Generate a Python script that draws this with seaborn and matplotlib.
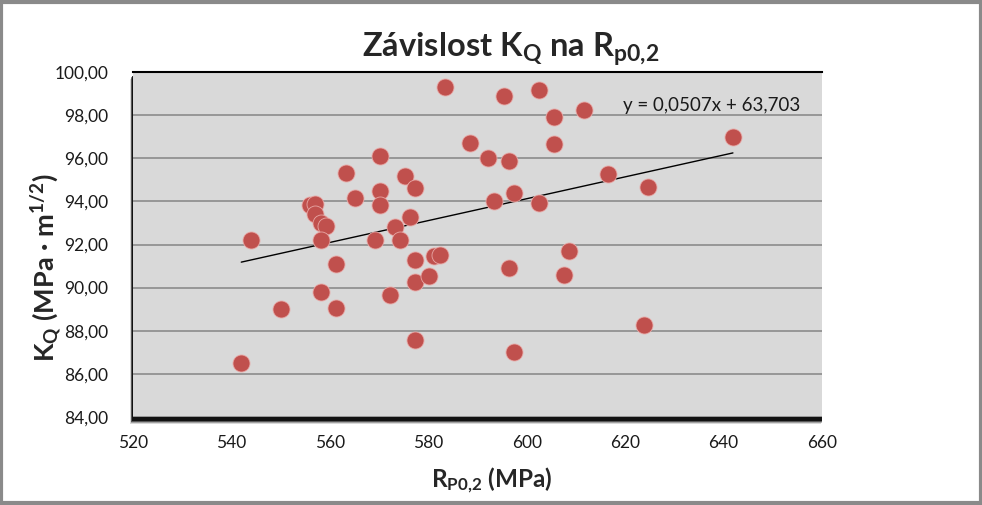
import matplotlib
matplotlib.use("Agg")
import matplotlib.pyplot as plt
import seaborn as sns
import numpy as np
import pandas as pd
from matplotlib.patches import Rectangle

# ---- data ----
rp02 = [542, 544, 550, 556, 557, 557, 558.3, 559.2, 558.2, 558.2, 561.2, 561.2,
        563.2, 565.2, 570.1, 570.1, 570.1, 569.1, 572.2, 573.2, 574.2, 575.2,
        576.2, 577.3, 577.3, 577.3, 577.3, 580.1, 581.1, 582.4, 583.4, 588.5,
        592.1, 593.4, 595.4, 596.4, 596.4, 597.4, 597.4, 602.5, 602.5, 605.6,
        605.6, 607.6, 608.6, 611.7, 616.6, 623.9, 624.7, 641.9]
kq = [86.5, 92.2, 89.0, 93.83, 93.9, 93.4, 93.0, 92.85, 92.2, 89.8, 91.1, 89.05,
      95.3, 94.15, 96.1, 94.5, 93.85, 92.2, 89.65, 92.8, 92.2, 95.2,
      93.27, 94.6, 91.3, 90.26, 87.57, 90.54, 91.45, 91.5, 99.3, 96.7,
      96.02, 94.02, 98.9, 95.87, 90.9, 94.4, 87.02, 99.17, 93.92, 97.91,
      96.66, 90.58, 91.7, 98.24, 95.27, 88.26, 94.67, 96.98]
slope, intercept = 0.0507, 63.703
x_ticks = [520, 540, 560, 580, 600, 620, 640, 660]
y_ticks = [84, 86, 88, 90, 92, 94, 96, 98, 100]

df = pd.DataFrame({"Rp02": rp02, "KQ": kq})
tx = np.array([min(rp02), max(rp02)])
trend = pd.DataFrame({"x": tx, "y": slope * tx + intercept})

sns.set_style("white")
plt.rcParams["font.family"] = ["Lato", "DejaVu Sans"]
plt.rcParams["mathtext.fontset"] = "custom"
plt.rcParams["mathtext.rm"] = "Lato"
plt.rcParams["mathtext.bf"] = "Lato:bold"
plt.rcParams["mathtext.it"] = "Lato:italic"

fig = plt.figure(figsize=(9.82, 5.05), dpi=100)
fig.patch.set_facecolor("white")
W, H = 982, 505
L, R, T, B = 133, 822, 72, 417
ax = fig.add_axes([L / W, 1 - B / H, (R - L) / W, (B - T) / H])

# shadow of plot area
for i, a in enumerate([0.15, 0.25, 0.45, 0.8]):
    off = 7 - i
    fig.patches.append(Rectangle(((L - 3 + i * 0.5) / W, (H - B - off) / H),
                                 (R - L + 2) / W, (B - T) / H,
                                 transform=fig.transFigure, facecolor="black",
                                 edgecolor="none", alpha=a, zorder=0))

ax.set_facecolor("#d9d9d9")
ax.set_zorder(1)
ax.set_xlim(520, 660)
ax.set_ylim(84, 100)
ax.set_yticks(y_ticks)
ax.set_xticks(x_ticks)
ax.yaxis.grid(True, color="#8c8c8c", linewidth=1.2)
ax.set_axisbelow(True)
ax.set_yticklabels([f"{v:.2f}".replace(".", ",") for v in y_ticks])
ax.set_xticklabels([str(v) for v in x_ticks])
ax.tick_params(axis="both", length=0, labelsize=12.5, colors="#1a1a1a")
ax.tick_params(axis="y", pad=18)
ax.tick_params(axis="x", pad=13)
for s in ["left", "right", "bottom"]:
    ax.spines[s].set_visible(False)
ax.spines["top"].set_color("black")
ax.spines["top"].set_linewidth(1.5)

sns.lineplot(data=trend, x="x", y="y", ax=ax, color="black", linewidth=1.0,
             zorder=2)
sns.scatterplot(data=df, x="Rp02", y="KQ", ax=ax, color="#c0504d", s=150,
                edgecolor="#e8a8a6", linewidth=0.6, alpha=1, zorder=3)

ax.text(637.5, 98.45, "y = 0,0507x + 63,703", fontsize=13.5, ha="center",
        va="center", color="#1a1a1a")

ax.set_xlabel(r"R$_\mathbf{P0{,}2}$ (MPa)", fontsize=17.5, fontweight="bold")
ax.xaxis.set_label_coords((492 - L) / (R - L), -(480 - B) / (B - T))
ax.xaxis.label.set_va("center")
ax.set_ylabel(r"K$_\mathbf{Q}$ (MPa · m$^\mathbf{1/2}$)", fontsize=19.5,
              fontweight="bold")
ax.yaxis.set_label_coords(-(L - 47) / (R - L), (B - 268) / (B - T))
ax.yaxis.label.set_va("center")
fig.text(511 / W, 1 - 68 / H, r"Závislost K$_\mathbf{Q}$ na R$_\mathbf{p0{,}2}$",
         fontsize=23.5, fontweight="bold", ha="center", va="bottom")

# outer border
fig.patches.append(Rectangle((0.0015, 0.003), 0.997, 0.994,
                             transform=fig.transFigure, fill=False,
                             edgecolor="#8a8a8a", linewidth=3, zorder=5))

fig.savefig("out.png", dpi=100)
